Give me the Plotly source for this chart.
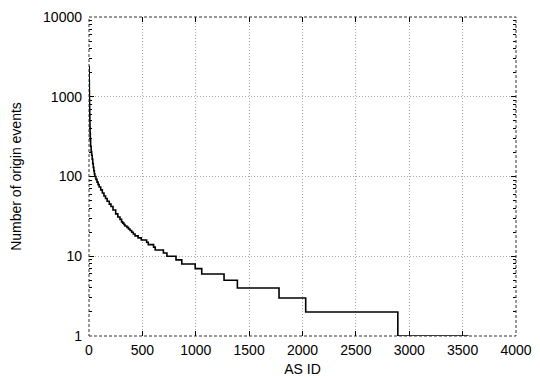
import plotly.graph_objects as go

# Rank (AS ID) where each value level starts, and the value (number of origin events)
as_rank = [1, 2, 3, 4, 5, 6, 7, 8, 9, 10, 12, 15, 20, 25, 30, 35, 40, 45, 50, 55, 65, 75,
           85, 95, 110, 125, 140, 155, 170, 190, 206, 225, 250, 270, 290, 305, 316, 327,
           337, 355, 370, 384, 400, 415, 431, 460, 490, 540, 555, 605, 620, 697, 730, 815,
           869, 995, 1056, 1265, 1390, 1780, 2030, 2893, 3555]
origin_events = [2400, 1600, 1200, 950, 800, 680, 580, 500, 420, 350, 290, 240, 205, 185,
                 165, 145, 130, 118, 108, 100, 92, 85, 79, 74, 68, 62, 57, 53, 49, 45, 42,
                 38, 34, 31, 29, 27, 26, 25, 24, 23, 22, 21, 20, 19, 18, 17, 16, 15, 14,
                 13, 12, 11, 10, 9, 8, 7, 6, 5, 4, 3, 2, 1, 1]

x_ticks = [0, 500, 1000, 1500, 2000, 2500, 3000, 3500, 4000]
y_ticks = [1, 10, 100, 1000, 10000]
y_minor = [m * 10 ** d for d in range(4) for m in range(2, 10)]

fig = go.Figure()
fig.add_trace(go.Scatter(
    x=as_rank, y=origin_events, mode="lines",
    line=dict(color="black", width=1.6, shape="hv"),
    showlegend=False, hoverinfo="skip",
))

font = dict(family="Liberation Sans, Arial, sans-serif", size=14, color="black")
grid = dict(showgrid=True, gridcolor="#a8a8a8", griddash="1px,2px", gridwidth=1)

# page body has an 8px margin, so the figure is sized to fit the 540x378 window
fig.update_layout(
    width=532, height=370,
    margin=dict(l=81, r=24, t=9, b=42),
    paper_bgcolor="white", plot_bgcolor="white",
    font=font,
    xaxis=dict(
        range=[0, 4000], tickvals=x_ticks, ticktext=[str(v) for v in x_ticks],
        ticks="inside", ticklen=5, tickcolor="black", mirror="ticks",
        showline=False, zeroline=False, automargin=False, ticklabelstandoff=4,
        title=dict(text="AS ID", font=font, standoff=7),
        **grid,
    ),
    yaxis=dict(
        type="log", range=[0, 4], tickvals=y_ticks, ticktext=[str(v) for v in y_ticks],
        ticks="inside", ticklen=5, tickcolor="black", mirror="ticks",
        minor=dict(tickvals=y_minor, ticks="inside", ticklen=3, tickcolor="black",
                   showgrid=False),
        showline=False, zeroline=False, automargin=False, ticklabelstandoff=6,
        title=dict(text="Number of origin events", font=font, standoff=24),
        **grid,
    ),
)

fig.add_shape(type="rect", xref="paper", yref="paper", x0=0, y0=0, x1=1, y1=1,
              line=dict(color="#333333", width=1, dash="3px,2px"), layer="above")

fig.write_html("out.html")
